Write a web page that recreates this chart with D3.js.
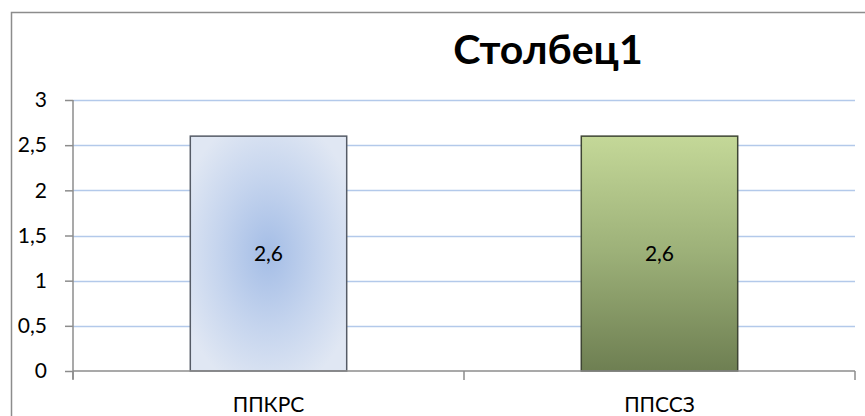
<!DOCTYPE html>
<html>
<head>
<meta charset="utf-8">
<script src="https://cdn.jsdelivr.net/npm/d3@7"></script>
<style>
  body { margin: 0; background: #fff; }
  text { font-family: Lato, "Open Sans", sans-serif; }
</style>
</head>
<body>
<svg class="chart"></svg>
<script>
// values
var categories = ["ППКРС", "ППССЗ"];
var values = [2.6, 2.6];
var yTicks = [0, 0.5, 1, 1.5, 2, 2.5, 3];
var title = "Столбец1";

var W = 865, H = 416;
var margin = {top: 100, right: 10, bottom: 45, left: 73},
	width = W - margin.left - margin.right,
	height = H - margin.top - margin.bottom;

var svg = d3.select(".chart")
	.attr("width", W)
	.attr("height", H);

// gradients for the two bars
var defs = svg.append("defs");
var blue = defs.append("radialGradient")
	.attr("id", "blueFill")
	.attr("cx", "50%").attr("cy", "50%").attr("r", "60%");
blue.append("stop").attr("offset", "0%").attr("stop-color", "#a4bde6");
blue.append("stop").attr("offset", "55%").attr("stop-color", "#c6d5ee");
blue.append("stop").attr("offset", "100%").attr("stop-color", "#e0e7f3");

var green = defs.append("linearGradient")
	.attr("id", "greenFill")
	.attr("x1", 0).attr("y1", 0).attr("x2", 0).attr("y2", 1);
green.append("stop").attr("offset", "0%").attr("stop-color", "#c4d898");
green.append("stop").attr("offset", "50%").attr("stop-color", "#9cb078");
green.append("stop").attr("offset", "100%").attr("stop-color", "#6e7f52");

// outer frame
svg.append("rect")
	.attr("x", 11.5).attr("y", 12.5)
	.attr("width", W).attr("height", H)
	.attr("fill", "none")
	.attr("stroke", "#8c8c8c")
	.attr("stroke-width", 1.5);

// title
svg.append("text")
	.attr("x", 548).attr("y", 64)
	.attr("text-anchor", "middle")
	.attr("font-weight", "bold")
	.attr("font-size", 41)
	.attr("fill", "#000")
	.text(title);

var g = svg.append("g")
	.attr("transform", "translate(" + margin.left + "," + margin.top + ")");

var x = d3.scaleBand().domain(categories).range([0, width]).paddingInner(0.6).paddingOuter(0.3);
var xOuter = d3.scaleBand().domain(categories).range([0, width]);
var y = d3.scaleLinear().domain([0, 3]).range([height, 0]);

// gridlines
g.selectAll(".grid")
	.data(yTicks.filter(function(d) { return d > 0; }))
  .enter().append("line")
	.attr("x1", 0).attr("x2", width)
	.attr("y1", function(d) { return Math.round(y(d)) + 0.5; })
	.attr("y2", function(d) { return Math.round(y(d)) + 0.5; })
	.attr("stroke", "#b3c9ea")
	.attr("stroke-width", 1.5);

// bars
g.selectAll(".bar")
	.data(values)
  .enter().append("rect")
	.attr("x", function(d, i) { return x(categories[i]); })
	.attr("y", function(d) { return y(d); })
	.attr("width", x.bandwidth())
	.attr("height", function(d) { return height - y(d); })
	.attr("fill", function(d, i) { return i === 0 ? "url(#blueFill)" : "url(#greenFill)"; })
	.attr("stroke", function(d, i) { return i === 0 ? "#555b66" : "#3e4533"; })
	.attr("stroke-width", 1.5);

// value labels
g.selectAll(".lbl")
	.data(values)
  .enter().append("text")
	.attr("x", function(d, i) { return x(categories[i]) + x.bandwidth() / 2; })
	.attr("y", function(d) { return (y(d) + height) / 2 + 7; })
	.attr("text-anchor", "middle")
	.attr("font-size", 21)
	.attr("fill", "#000")
	.text(function(d) { return String(d).replace(".", ","); });

// y axis
var yAxis = g.append("g")
	.call(d3.axisLeft(y).tickValues(yTicks).tickSize(8).tickPadding(18)
		.tickFormat(function(d) { return String(d).replace(".", ","); }));
yAxis.select(".domain").attr("stroke", "#8c8c8c").attr("stroke-width", 1.5).attr("d", "M0,0V" + (height + 8));
yAxis.selectAll(".tick line").attr("stroke", "#8c8c8c").attr("stroke-width", 1.5);
yAxis.selectAll("text").attr("font-size", 21).attr("fill", "#000").style("font-family", "Lato, sans-serif");

// x axis with ticks between categories
var xAxis = g.append("g")
	.attr("transform", "translate(0," + height + ")");
xAxis.append("line")
	.attr("x1", 0).attr("x2", width)
	.attr("stroke", "#8c8c8c").attr("stroke-width", 1.5);
var bounds = [0].concat(categories.map(function(c) { return xOuter(c) + xOuter.bandwidth(); }));
xAxis.selectAll(".xt")
	.data(bounds)
  .enter().append("line")
	.attr("x1", function(d) { return d; }).attr("x2", function(d) { return d; })
	.attr("y1", 0).attr("y2", 9)
	.attr("stroke", "#8c8c8c").attr("stroke-width", 1.5);
xAxis.selectAll(".xl")
	.data(categories)
  .enter().append("text")
	.attr("x", function(d) { return xOuter(d) + xOuter.bandwidth() / 2; })
	.attr("y", 41)
	.attr("text-anchor", "middle")
	.attr("font-size", 21)
	.attr("fill", "#000")
	.text(function(d) { return d; });
</script>
</body>
</html>
